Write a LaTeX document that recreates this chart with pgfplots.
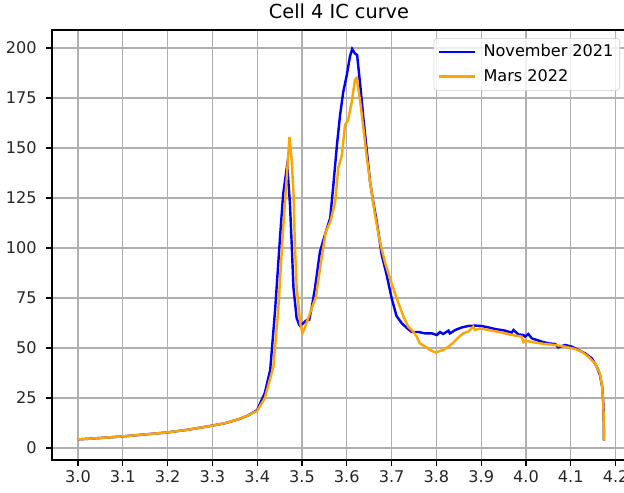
\documentclass[border=0pt]{standalone}
\usepackage{pgfplots}
\pgfplotsset{compat=1.18}
\usepackage{fontspec}
\setmainfont{DejaVu Sans}

\definecolor{mplorange}{HTML}{FFA500}
\definecolor{gridgray}{HTML}{B0B0B0}

% Incremental capacity dQ/dV against voltage, November 2021
\pgfplotstableread{
v      ic
3.000  4.3
3.050  5.0
3.100  5.8
3.150  6.8
3.200  7.8
3.250  9.3
3.300  11.2
3.330  12.5
3.360  14.5
3.380  16.3
3.400  19.0
3.417  27.5
3.429  39.0
3.440  69.0
3.451  105.5
3.458  127.0
3.466  140.0
3.467  141.5
3.473  122.5
3.477  102.0
3.481  80.0
3.488  65.0
3.494  61.5
3.496  61.0
3.503  62.5
3.511  64.0
3.516  64.0
3.522  70.5
3.529  80.0
3.540  98.0
3.551  106.5
3.563  115.0
3.570  131.5
3.578  151.5
3.585  166.5
3.592  178.0
3.600  186.5
3.607  195.7
3.612  199.5
3.618  197.3
3.623  196.5
3.630  181.5
3.637  165.0
3.644  150.0
3.652  133.0
3.659  123.0
3.667  113.0
3.678  96.5
3.689  86.5
3.700  75.0
3.711  66.0
3.723  62.3
3.734  60.0
3.745  58.0
3.760  58.0
3.775  57.3
3.790  57.3
3.801  56.5
3.808  58.0
3.815  57.0
3.827  58.7
3.830  57.3
3.842  59.0
3.857  60.3
3.871  61.0
3.886  61.2
3.901  61.0
3.916  60.3
3.931  59.5
3.953  58.7
3.968  57.7
3.972  59.0
3.983  56.8
3.994  56.5
3.998  55.7
4.005  57.0
4.013  54.8
4.035  53.2
4.050  52.3
4.065  52.0
4.072  50.3
4.087  51.5
4.102  50.7
4.117  49.0
4.132  47.3
4.147  44.8
4.158  40.7
4.165  36.5
4.170  30.7
4.173  20.7
4.174  3.7
}\novtable

% Same cell, March 2022
\pgfplotstableread{
v      ic
3.000  4.3
3.050  5.0
3.100  5.8
3.150  6.8
3.200  7.8
3.250  9.3
3.300  11.2
3.330  12.5
3.360  14.5
3.380  16.3
3.400  18.6
3.417  25.0
3.436  40.5
3.447  69.0
3.458  110.0
3.466  135.5
3.472  155.5
3.477  144.0
3.481  127.5
3.484  102.5
3.488  80.5
3.496  62.5
3.501  57.5
3.507  60.5
3.518  67.5
3.531  75.5
3.542  92.5
3.553  108.0
3.563  113.0
3.574  123.0
3.581  140.0
3.589  146.5
3.596  161.5
3.603  164.0
3.611  173.0
3.618  184.0
3.622  185.0
3.630  173.0
3.637  160.0
3.644  146.5
3.652  133.0
3.663  116.5
3.674  103.0
3.685  93.0
3.696  85.0
3.711  75.0
3.726  66.0
3.737  60.7
3.749  58.0
3.756  55.7
3.763  52.3
3.775  50.7
3.786  49.0
3.797  47.8
3.804  48.2
3.815  49.0
3.827  50.7
3.838  52.7
3.849  55.3
3.860  57.3
3.871  58.2
3.882  60.7
3.886  59.0
3.897  59.8
3.909  59.3
3.923  58.7
3.946  57.7
3.968  56.5
3.990  55.7
3.994  53.0
3.998  53.7
4.020  52.7
4.042  52.0
4.065  51.5
4.087  50.7
4.109  49.5
4.124  48.2
4.139  45.7
4.154  42.3
4.165  37.3
4.170  30.7
4.173  19.0
4.174  3.7
}\martable

\begin{document}
\begin{tikzpicture}
\useasboundingbox (-37.44pt,-23.04pt) rectangle (411.84pt,331.2pt);
\begin{axis}[
  at={(0pt,0pt)}, anchor=south west,
  scale only axis,
  width=413.28pt, height=309.6pt,
  xmin=2.942, xmax=4.2232,
  ymin=-6, ymax=209,
  xtick={3.0,3.1,...,4.21},
  ytick={0,25,...,200},
  xticklabel style={/pgf/number format/.cd, fixed, fixed zerofill, precision=1},
  /pgf/number format/assume math mode=true,
  tick label style={font=\fontsize{11.6}{14}\selectfont, text=black!85},
  yticklabel shift=3.5pt,
  tick align=outside,
  tick pos=left,
  major tick length=4pt,
  every tick/.style={black, line width=0.93pt},
  axis line style={line width=0.93pt},
  grid=major,
  major grid style={gridgray, line width=0.93pt},
  title={Cell 4 IC curve},
  title style={font=\fontsize{13.9}{16}\selectfont, yshift=-1.5pt},
  legend cell align=left,
  legend style={
    at={(0.9896,0.9813)}, anchor=north east,
    draw=black!20, rounded corners=2.5pt, fill=white, fill opacity=0.8,
    text opacity=1, font=\fontsize{11.6}{14}\selectfont,
    inner xsep=2.5pt, inner ysep=2.7pt, row sep=3pt,
    nodes={inner sep=2pt, text height=8.6pt, text depth=2pt},
  },
  legend image code/.code={
    \draw[#1] (0pt,0pt) -- (26pt,0pt);
    \path (29.5pt,0pt);
  },
]
\addplot[blue, line width=1.74pt] table[x=v, y=ic] {\novtable};
\addlegendentry{November 2021}
\addplot[mplorange, line width=1.74pt] table[x=v, y=ic] {\martable};
\addlegendentry{Mars 2022}
\end{axis}
\end{tikzpicture}
\end{document}
